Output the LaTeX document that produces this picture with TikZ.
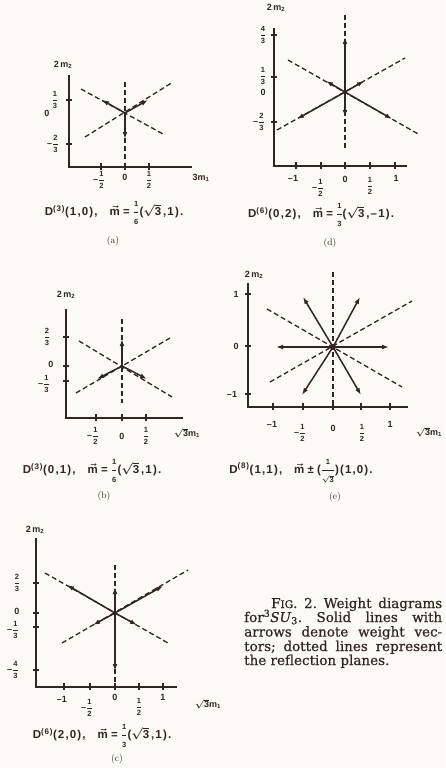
\documentclass[tikz,border=0pt]{standalone}
\usepackage{amsmath}
\usepackage{fontspec}
\newfontfamily\capfont[FakeBold=0.6]{DejaVu Serif}
\newfontfamily\labfont{Liberation Sans}
\newfontfamily\captfont[LetterSpace=10]{Liberation Sans}
\usetikzlibrary{arrows.meta}
\definecolor{ink}{RGB}{50,38,34}
\definecolor{paper}{RGB}{251,250,247}
\newcommand\frsize{\fontsize{7.5}{8}\selectfont}
\newcommand\fr[2]{\ensuremath{\genfrac{}{}{0.8pt}{0}{\text{\frsize #1}}{\text{\frsize #2}}}}
\newcommand\vm{\ensuremath{\vec{\text{m}}}}
\tikzset{
  axis/.style={draw=ink, line width=1.5pt},
  tickmark/.style={draw=ink, line width=1.1pt},
  refl/.style={draw=ink, line width=1.3pt, dash pattern=on 5pt off 3pt},
  vec/.style={draw=ink, line width=1.5pt, -{Latex[length=7pt,width=4.8pt]}},
  lab/.style={font=\labfont\bfseries\boldmath\fontsize{9}{10}\selectfont, text=ink, inner sep=0pt},
  capt/.style={font=\captfont\bfseries\boldmath\fontsize{11.5}{13}\selectfont, text=ink, inner sep=0pt},
  sublab/.style={font=\fontsize{9.5}{10}\selectfont, text=ink, inner sep=0pt},
  capline/.style={anchor=base west, inner sep=0pt, text=ink, font=\capfont\fontsize{13.5}{14.4}\selectfont\frenchspacing},
}
\begin{document}
\begin{tikzpicture}[x=1pt,y=-1pt]
\fill[paper] (0,0) rectangle (445,768);
\useasboundingbox (0,0) rectangle (445,768);

% ================= (a) =================
\coordinate (aYt) at (69,75); \coordinate (aC) at (69,167); \coordinate (aXr) at (192,167);
\draw[axis] (aYt) -- (aC) -- (aXr);
\foreach \y in {100,144} \draw[tickmark] (66,\y) -- (72,\y);
\foreach \x in {101,125,149} \draw[tickmark] (\x,163) -- (\x,170);
\node[lab] (am2) at (63,65) {2\,m\textsubscript{2}};
\node[lab] (ay0) at (47,113) {0};
\node[lab] (ay1) at (55,100) {\fr{1}{3}};
\node[lab] (ay2) at (53,144) {–\fr{2}{3}};
\node[lab] (ax1) at (99,180) {–\fr{1}{2}};
\node[lab] (ax0) at (125,177) {0};
\node[lab] (ax2) at (149,180) {\fr{1}{2}};
\node[lab] (axl) at (201,178) {3m\textsubscript{1}};
\coordinate (aO) at (125,113);
\coordinate (ad1) at (81,89); \coordinate (ad2) at (163,134);
\coordinate (ad3) at (85,137); \coordinate (ad4) at (173,82);
\coordinate (ad5) at (125,82); \coordinate (ad6) at (125,162);
\draw[refl] (ad1) -- (ad2); \draw[refl] (ad3) -- (ad4); \draw[refl] (ad5) -- (ad6);
\coordinate (aw1) at (102,100); \coordinate (aw2) at (148,100); \coordinate (aw3) at (125,139);
\draw[vec] (aO) -- (aw1); \draw[vec] (aO) -- (aw2); \draw[vec] (aO) -- (aw3);
\node[capt] (acap) at (114,213) {D\textsuperscript{(3)}(1,0),\hspace{12pt}\vm\;=\;\fr{1}{6}(\ensuremath{\sqrt{\text{3}}}\,,1).};
\node[sublab] (asub) at (113,241) {(a)};

% ================= (d) =================
\coordinate (dYt) at (274,28); \coordinate (dC) at (274,166); \coordinate (dXr) at (407,166);
\draw[axis] (dYt) -- (dC) -- (dXr);
\foreach \y in {35,77,122} \draw[tickmark] (271,\y) -- (277,\y);
\foreach \x in {296,321,345,370,395} \draw[tickmark] (\x,162) -- (\x,169);
\node[lab] (dm2) at (276,8) {2\,m\textsubscript{2}};
\node[lab] (dy4) at (263,35) {\fr{4}{3}};
\node[lab] (dy1) at (263,76) {\fr{1}{3}};
\node[lab] (dy0) at (263,92) {0};
\node[lab] (dy2) at (259,122) {–\fr{2}{3}};
\node[lab] (dxm1) at (293,178) {–1};
\node[lab] (dxmh) at (318,188) {–\fr{1}{2}};
\node[lab] (dx0) at (345,179) {0};
\node[lab] (dxh) at (370,186) {\fr{1}{2}};
\node[lab] (dx1) at (396,178) {1};
\coordinate (dO) at (345,92);
\coordinate (dd1) at (288,60); \coordinate (dd2) at (420,135);
\coordinate (dd3) at (277,130); \coordinate (dd4) at (405,58);
\coordinate (dd5) at (345,15); \coordinate (dd6) at (345,148);
\draw[refl] (dd1) -- (dd2); \draw[refl] (dd3) -- (dd4); \draw[refl] (dd5) -- (dd6);
\coordinate (dw1) at (345,37); \coordinate (dw2) at (345,117);
\coordinate (dw3) at (326,81); \coordinate (dw4) at (364,81);
\coordinate (dw5) at (297,119); \coordinate (dw6) at (392,119);
\foreach \w in {dw1,dw2,dw3,dw4,dw5,dw6} \draw[vec] (dO) -- (\w);
\node[capt] (dcap) at (321,215) {D\textsuperscript{(6)}(0,2),\hspace{12pt}\vm\;=\;\fr{1}{3}(\ensuremath{\sqrt{\text{3}}}\,,–1).};
\node[sublab] (dsub) at (330,243) {(d)};

% ================= (b) =================
\coordinate (bYt) at (66,309); \coordinate (bC) at (66,418); \coordinate (bXr) at (183,418);
\draw[axis] (bYt) -- (bC) -- (bXr);
\foreach \y in {337,366,381} \draw[tickmark] (63,\y) -- (69,\y);
\foreach \x in {96,122,146} \draw[tickmark] (\x,414) -- (\x,421);
\node[lab] (bm2) at (66,295) {2\,m\textsubscript{2}};
\node[lab] (by2) at (47,337) {\fr{2}{3}};
\node[lab] (by0) at (51,364) {0};
\node[lab] (by1) at (44,384) {–\fr{1}{3}};
\node[lab] (bx1) at (93,436) {–\fr{1}{2}};
\node[lab] (bx0) at (122,436) {0};
\node[lab] (bx2) at (146,436) {\fr{1}{2}};
\node[lab] (bxl) at (187,433) {\ensuremath{\sqrt{\text{3}}}m\textsubscript{1}};
\coordinate (bO) at (122,366);
\coordinate (bd1) at (79,341); \coordinate (bd2) at (172,397);
\coordinate (bd3) at (76,393); \coordinate (bd4) at (170,338);
\coordinate (bd5) at (122,319); \coordinate (bd6) at (122,403);
\draw[refl] (bd1) -- (bd2); \draw[refl] (bd3) -- (bd4); \draw[refl] (bd5) -- (bd6);
\coordinate (bw1) at (122,339); \coordinate (bw2) at (97,379); \coordinate (bw3) at (147,379);
\draw[vec] (bO) -- (bw1); \draw[vec] (bO) -- (bw2); \draw[vec] (bO) -- (bw3);
\node[capt] (bcap) at (92,471) {D\textsuperscript{(3)}(0,1),\hspace{12pt}\vm\;=\;\fr{1}{6}(\ensuremath{\sqrt{\text{3}}}\,,1).};
\node[sublab] (bsub) at (104,496) {(b)};

% ================= (e) =================
\coordinate (eYt) at (248,283); \coordinate (eC) at (248,407); \coordinate (eXr) at (408,407);
\draw[axis] (eYt) -- (eC) -- (eXr);
\foreach \y in {294,346,394} \draw[tickmark] (245,\y) -- (251,\y);
\foreach \x in {273,303,333,361,390} \draw[tickmark] (\x,403) -- (\x,410);
\node[lab] (em2) at (254,275) {2\,m\textsubscript{2}};
\node[lab] (ey1) at (236,294) {1};
\node[lab] (ey0) at (236,346) {0};
\node[lab] (eym) at (232,394) {–1};
\node[lab] (exm1) at (272,424) {–1};
\node[lab] (exmh) at (300,433) {–\fr{1}{2}};
\node[lab] (ex0) at (333,428) {0};
\node[lab] (exh) at (362,433) {\fr{1}{2}};
\node[lab] (ex1) at (390,424) {1};
\node[lab] (exl) at (429,432) {\ensuremath{\sqrt{\text{3}}}m\textsubscript{1}};
\coordinate (eO) at (333,347);
\coordinate (ed1) at (267,309); \coordinate (ed2) at (402,387);
\coordinate (ed3) at (270,382); \coordinate (ed4) at (412,301);
\coordinate (ed5) at (333,272); \coordinate (ed6) at (333,405);
\draw[refl] (ed1) -- (ed2); \draw[refl] (ed3) -- (ed4); \draw[refl] (ed5) -- (ed6);
\coordinate (ew1) at (389,347); \coordinate (ew2) at (276,347);
\coordinate (ew3) at (303,297); \coordinate (ew4) at (360,297);
\coordinate (ew5) at (302,395); \coordinate (ew6) at (361,395);
\foreach \w in {ew1,ew2,ew3,ew4,ew5,ew6} \draw[vec] (eO) -- (\w);
\fill[ink] (eO) circle (3);
\node[capt] (ecap) at (301,471) {D\textsuperscript{(8)}(1,1),\hspace{12pt}\vm\;±\;(\fr{1}{\ensuremath{\sqrt{\text{3}}}})(1,0).};
\node[sublab] (esub) at (335,497) {(e)};

% ================= (c) =================
\coordinate (cYt) at (36,538); \coordinate (cC) at (36,687); \coordinate (cXr) at (177,687);
\draw[axis] (cYt) -- (cC) -- (cXr);
\foreach \y in {583,613,627,670} \draw[tickmark] (33,\y) -- (39,\y);
\foreach \x in {64,90,115,139,163} \draw[tickmark] (\x,683) -- (\x,690);
\node[lab] (cm2) at (35,530) {2\,m\textsubscript{2}};
\node[lab] (cy2) at (17,583) {\fr{2}{3}};
\node[lab] (cy0) at (17,611) {0};
\node[lab] (cy1) at (13,630) {–\fr{1}{3}};
\node[lab] (cy4) at (13,670) {–\fr{4}{3}};
\node[lab] (cxm1) at (62,699) {–1};
\node[lab] (cxmh) at (87,708) {–\fr{1}{2}};
\node[lab] (cx0) at (115,697) {0};
\node[lab] (cxh) at (139,707) {\fr{1}{2}};
\node[lab] (cx1) at (163,697) {1};
\node[lab] (cxl) at (208,704) {\ensuremath{\sqrt{\text{3}}}m\textsubscript{1}};
\coordinate (cO) at (115,613);
\coordinate (cd1) at (45,573); \coordinate (cd2) at (168,643);
\coordinate (cd3) at (62,643); \coordinate (cd4) at (188,570);
\coordinate (cd5) at (115,565); \coordinate (cd6) at (115,688);
\draw[refl] (cd1) -- (cd2); \draw[refl] (cd3) -- (cd4); \draw[refl] (cd5) -- (cd6);
\coordinate (cw1) at (67,585); \coordinate (cw2) at (163,586);
\coordinate (cw3) at (115,587); \coordinate (cw4) at (115,671);
\coordinate (cw5) at (93,625); \coordinate (cw6) at (137,625);
\foreach \w in {cw1,cw2,cw3,cw4,cw5,cw6} \draw[vec] (cO) -- (\w);
\node[capt] (ccap) at (102,736) {D\textsuperscript{(6)}(2,0),\hspace{12pt}\vm\;=\;\fr{1}{3}(\ensuremath{\sqrt{\text{3}}}\,,1).};
\node[sublab] (csub) at (117,759) {(c)};

% ================= figure caption =================
\node[capline] (fc1) at (271,608) {\makebox[171pt][s]{F{\fontsize{10.5}{14}\selectfont IG}. 2. Weight diagrams}};
\node[capline] (fc2) at (244,622) {\makebox[198pt][s]{for\textsuperscript{3}\textit{SU}\textsubscript{3}. Solid lines with}};
\node[capline] (fc3) at (244,636.5) {\makebox[198pt][s]{arrows denote weight vec-}};
\node[capline] (fc4) at (244,651) {\makebox[198pt][s]{tors; dotted lines represent}};
\node[capline] (fc5) at (244,665) {the reflection planes.};
\end{tikzpicture}
\end{document}
